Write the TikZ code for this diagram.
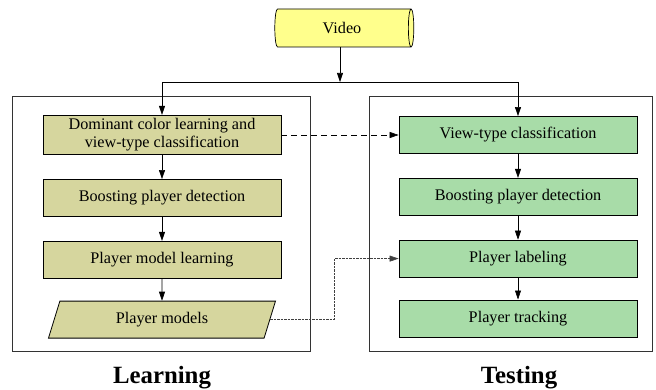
\documentclass[tikz,border=0pt]{standalone}
\usepackage{fontspec}
\setmainfont{Liberation Serif}
\usetikzlibrary{positioning,arrows.meta,shapes.geometric}

\definecolor{videocol}{RGB}{255,255,140}
\definecolor{learncol}{RGB}{214,214,158}
\definecolor{testcol}{RGB}{168,220,168}

\begin{document}
\begin{tikzpicture}[x=1pt,y=-1pt]
\tikzstyle{stage}=[draw,rectangle,line width=0.8pt,minimum width=238pt,minimum height=37pt,align=center,font=\fontsize{16.2}{18}\selectfont]
\tikzstyle{learn}=[stage,fill=learncol]
\tikzstyle{test}=[stage,fill=testcol]
\tikzstyle{panel}=[draw=black!80,line width=0.7pt,rectangle,minimum height=255pt]
\tikzstyle{title}=[font=\fontsize{24.8}{27}\selectfont\bfseries]
\tikzstyle{flow}=[-{Triangle[length=9pt,width=6pt]},line width=0.6pt]
\useasboundingbox (0,0) rectangle (656,390);

\node[panel,minimum width=298pt] (lpanel) at (161,223.5) {};
\node[panel,minimum width=283pt] (tpanel) at (510.5,223.5) {};
\node[title] (ltitle) at (162,378) {Learning};
\node[title] (ttitle) at (519,378) {Testing};

\node[cylinder,draw,fill=videocol,line width=0.7pt,shape aspect=0.3,minimum width=38pt,minimum height=139pt,font=\fontsize{16.2}{18}\selectfont] (video) at (342,28) {Video};
\coordinate (split) at (340,82);

\node[learn] (dom) at (162,135) {Dominant color learning and\\view-type classification};
\node[learn,below = 24pt of dom] (lbpd) {Boosting player detection};
\node[learn,below = 24pt of lbpd] (pml) {Player model learning};
\node[trapezium,draw,fill=learncol,line width=0.8pt,trapezium left angle=62,trapezium right angle=118,trapezium stretches body,minimum width=227pt,minimum height=37pt,font=\fontsize{16.2}{18}\selectfont,below = 22pt of pml] (pm) {Player models};

\node[test] (vtc) at (518,135) {View-type classification};
\node[test,below = 24pt of vtc] (tbpd) {Boosting player detection};
\node[test,below = 24pt of tbpd] (plab) {Player labeling};
\node[test,below = 22pt of plab] (ptrk) {Player tracking};

\draw[flow] (video.south -| split) -- (split);
\draw[flow] (split) -| (dom);
\draw[flow] (split) -| (vtc);
\draw[flow] (dom) -- (lbpd);
\draw[flow] (lbpd) -- (pml);
\draw[flow] (pml) -- (pm);
\draw[flow] (vtc) -- (tbpd);
\draw[flow] (tbpd) -- (plab);
\draw[flow] (plab) -- (ptrk);

\draw[flow,dash pattern=on 6pt off 4pt] (dom) -- (vtc);
\draw[flow,black!75,dash pattern=on 2.5pt off 1pt] (pm.east) -- ++(64,0) |- (plab);
\end{tikzpicture}
\end{document}
